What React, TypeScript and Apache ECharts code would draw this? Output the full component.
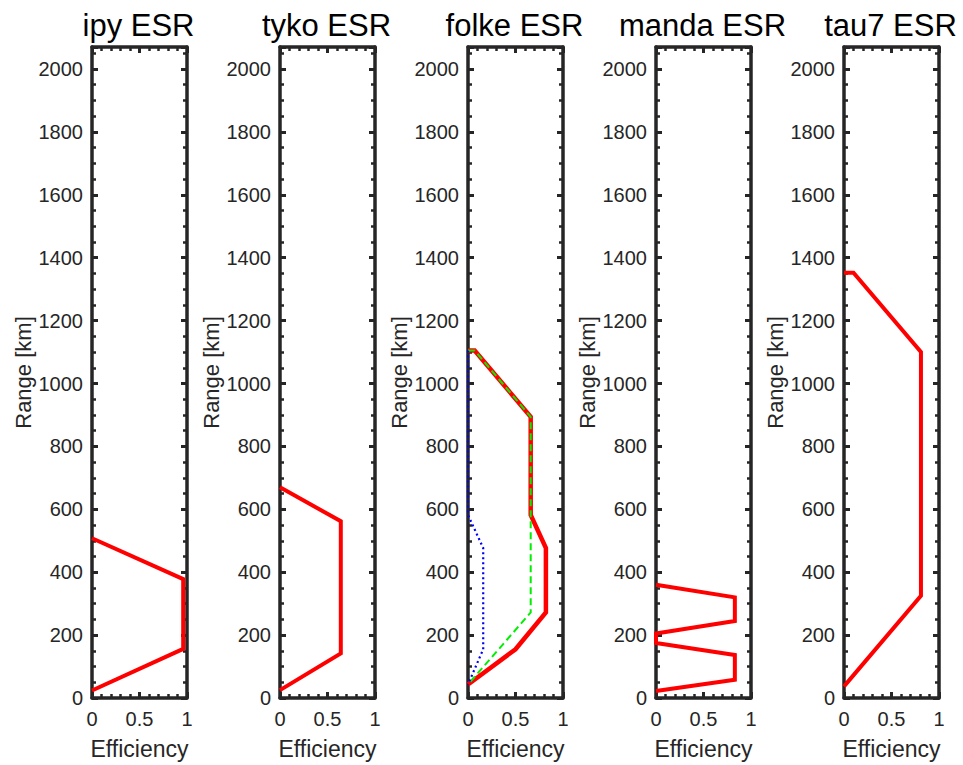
import React, { useEffect, useRef } from "react";
import * as echarts from "echarts";

const panelTitles = ["ipy ESR", "tyko ESR", "folke ESR", "manda ESR", "tau7 ESR"];

// [efficiency, range km]
const ipyRed: number[][] = [[0, 508], [0.96, 378], [0.96, 156], [0, 24]];
const tykoRed: number[][] = [[0, 670], [0.64, 562], [0.64, 142], [0, 25]];
const folkeRed: number[][] = [[0, 1105], [0.07, 1105], [0.66, 894], [0.66, 582], [0.82, 477], [0.82, 272], [0.5, 155], [0, 43]];
const folkeGreen: number[][] = [[0, 1105], [0.07, 1105], [0.66, 894], [0.66, 272], [0, 43]];
const folkeBlue: number[][] = [[0, 1105], [0, 582], [0.16, 477], [0.16, 155], [0, 43]];
const mandaRed: number[][] = [[0, 360], [0.83, 320], [0.83, 245], [0, 205], [0, 175], [0.83, 137], [0.83, 58], [0, 22]];
const tau7Red: number[][] = [[0, 1352], [0.1, 1352], [0.81, 1100], [0.81, 325], [0, 37]];

const xTicks = [0, 0.5, 1];
const yMax = 2070;

const FONT = 'Arial, "Liberation Sans", Helvetica, sans-serif';
const INK = "#262626";

export default function App() {
  const ref = useRef<HTMLDivElement>(null);
  useEffect(() => {
    if (!ref.current) return;
    const chart = echarts.init(ref.current, undefined, { renderer: "svg" });
    const lefts = [92, 280, 468, 656, 844];
    const W = 95;
    const grids = lefts.map((l) => ({ left: l, top: 47, width: W, height: 654 }));
    const xAxes: any[] = [];
    const yAxes: any[] = [];
    const tick = { show: true, inside: true, length: 6, lineStyle: { color: INK, width: 3 } };
    lefts.forEach((_, i) => {
      const common = {
        gridIndex: i,
        type: "value",
        axisLine: { show: true, onZero: false, lineStyle: { color: INK, width: 3.5 } },
        splitLine: { show: false },
      };
      xAxes.push({
        ...common,
        position: "bottom",
        min: xTicks[0],
        max: xTicks[xTicks.length - 1],
        interval: 0.5,
        name: "Efficiency",
        nameLocation: "middle",
        nameGap: 39,
        nameTextStyle: { color: INK, fontSize: 23, fontFamily: FONT },
        axisTick: tick,
        minorTick: { show: true, splitNumber: 5, length: 4, lineStyle: { color: INK, width: 2.5 } },
        axisLabel: { color: INK, fontSize: 20, fontFamily: FONT, margin: 11, formatter: (v: number) => String(v) },
      });
      xAxes.push({
        ...common,
        position: "top",
        min: 0,
        max: 1,
        interval: 0.5,
        axisTick: tick,
        minorTick: { show: true, splitNumber: 5, length: 4, lineStyle: { color: INK, width: 2.5 } },
        axisLabel: { show: false },
      });
      yAxes.push({
        ...common,
        position: "left",
        min: 0,
        max: yMax,
        interval: 200,
        name: "Range [km]",
        nameLocation: "middle",
        nameGap: 58,
        nameTextStyle: { color: INK, fontSize: 22, fontFamily: FONT },
        axisTick: tick,
        minorTick: { show: true, splitNumber: 4, length: 4, lineStyle: { color: INK, width: 2.5 } },
        axisLabel: { color: INK, fontSize: 20, fontFamily: FONT, margin: 9, showMaxLabel: false, formatter: (v: number) => String(v) },
      });
      yAxes.push({
        ...common,
        position: "right",
        min: 0,
        max: yMax,
        interval: 200,
        axisTick: tick,
        minorTick: { show: true, splitNumber: 4, length: 4, lineStyle: { color: INK, width: 2.5 } },
        axisLabel: { show: false },
      });
    });

    const mk = (i: number, data: number[][], color: string, width: number, type: any) => ({
      type: "line",
      xAxisIndex: i * 2,
      yAxisIndex: i * 2,
      data,
      showSymbol: false,
      symbol: "none",
      clip: false,
      lineStyle: { color, width, type, cap: "butt", join: "miter" },
      silent: true,
    });

    chart.setOption({
      animation: false,
      backgroundColor: "#ffffff",
      title: panelTitles.map((t, i) => ({
        text: t,
        left: lefts[i] + W / 2 - 6,
        top: 5,
        textAlign: "center",
        textStyle: { color: "#000", fontSize: 31, fontWeight: "normal", fontFamily: FONT },
      })),
      grid: grids,
      xAxis: xAxes,
      yAxis: yAxes,
      series: [
        mk(0, ipyRed, "#ff0000", 4, "solid"),
        mk(1, tykoRed, "#ff0000", 4, "solid"),
        mk(2, folkeRed, "#ff0000", 4.5, "solid"),
        mk(2, folkeGreen, "#00ee00", 2, [7, 4]),
        mk(2, folkeBlue, "#0000ff", 2.2, [2, 3]),
        mk(3, mandaRed, "#ff0000", 4, "solid"),
        mk(4, tau7Red, "#ff0000", 4, "solid"),
      ],
    });
    return () => chart.dispose();
  }, []);
  return (
    <div
      ref={ref}
      style={{ position: "fixed", left: 0, top: 0, width: 963, height: 765, background: "#fff" }}
    />
  );
}
